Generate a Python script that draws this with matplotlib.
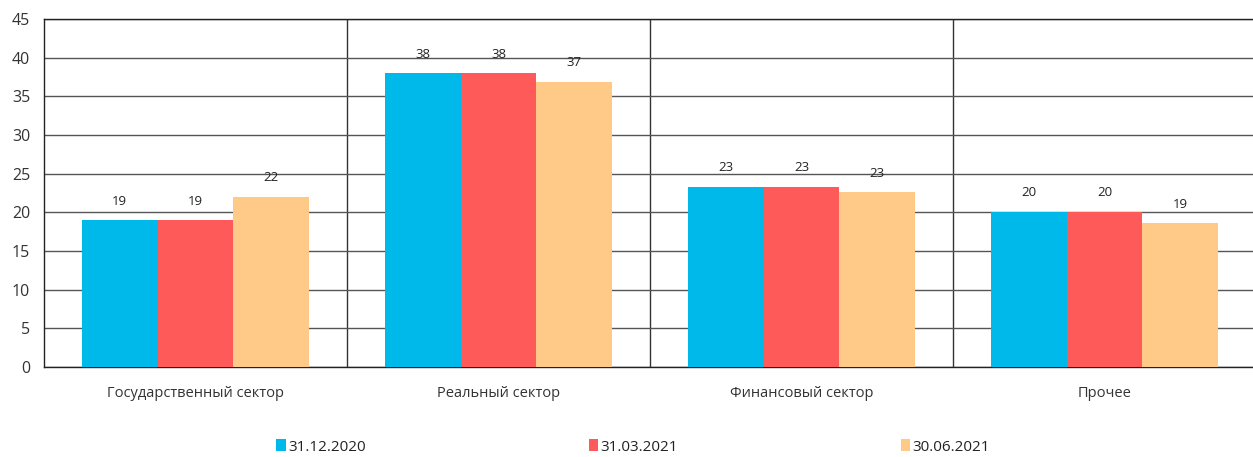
import matplotlib
matplotlib.use("Agg")
import matplotlib.pyplot as plt
import numpy as np
from matplotlib.patches import Patch

plt.rcParams['font.family'] = ['Open Sans', 'DejaVu Sans']

categories = ["Государственный сектор", "Реальный сектор", "Финансовый сектор", "Прочее"]
series_names = ["31.12.2020", "31.03.2021", "30.06.2021"]
values_dec2020 = [19.0, 38.0, 23.3, 20.1]
values_mar2021 = [19.0, 38.0, 23.3, 20.1]
values_jun2021 = [22.0, 36.9, 22.6, 18.6]
colors = ["#00B9EB", "#FF5A5A", "#FFC988"]
y_ticks = [0, 5, 10, 15, 20, 25, 30, 35, 40, 45]

series = [values_dec2020, values_mar2021, values_jun2021]

fig = plt.figure(figsize=(12.53, 4.57), dpi=100)
ax = fig.add_axes([44 / 1253, 1 - 367 / 457, 1 - 44 / 1253, (367 - 19) / 457])

x = np.arange(len(categories))
width = 0.25
for i, (vals, col) in enumerate(zip(series, colors)):
    pos = x + (i - 1) * width
    ax.bar(pos, vals, width=width, color=col, zorder=3, linewidth=0)
    for p, v in zip(pos, vals):
        ax.annotate(f"{v:.0f}", (p, v), xytext=(0, 9), textcoords="offset points",
                    ha="center", va="bottom", fontsize=9.5, color="#222222")

ax.set_ylim(0, 45)
ax.set_xlim(-0.5, -0.5 + (1253 - 44) / 303)
ax.set_yticks(y_ticks)
ax.yaxis.grid(True, color="#555555", linewidth=1.0, zorder=0)
for b in [0.5, 1.5, 2.5]:
    ax.axvline(b, color="#333333", linewidth=1.0, zorder=1)

ax.set_xticks(x)
ax.set_xticklabels(categories, fontsize=10.5, color="#333333")
ax.tick_params(axis="both", length=0, labelsize=10.5, colors="#333333")
ax.tick_params(axis="x", pad=14)
ax.tick_params(axis="y", pad=10)
ax.tick_params(axis="y", labelsize=11.5)

for s in ["left", "bottom", "top"]:
    ax.spines[s].set_color("#222222")
    ax.spines[s].set_linewidth(1.0)
ax.spines["right"].set_visible(False)

handles = [Patch(facecolor=c, edgecolor="none") for c in colors]
leg = fig.legend(handles, series_names, loc="center", bbox_to_anchor=(633 / 1253, 1 - 447 / 457),
                 ncol=3, frameon=False, fontsize=11, handlelength=0.6, handleheight=0.8,
                 handletextpad=0.15, columnspacing=14.6)
for t in leg.get_texts():
    t.set_color("#222222")

fig.savefig("out.png", dpi=100)
